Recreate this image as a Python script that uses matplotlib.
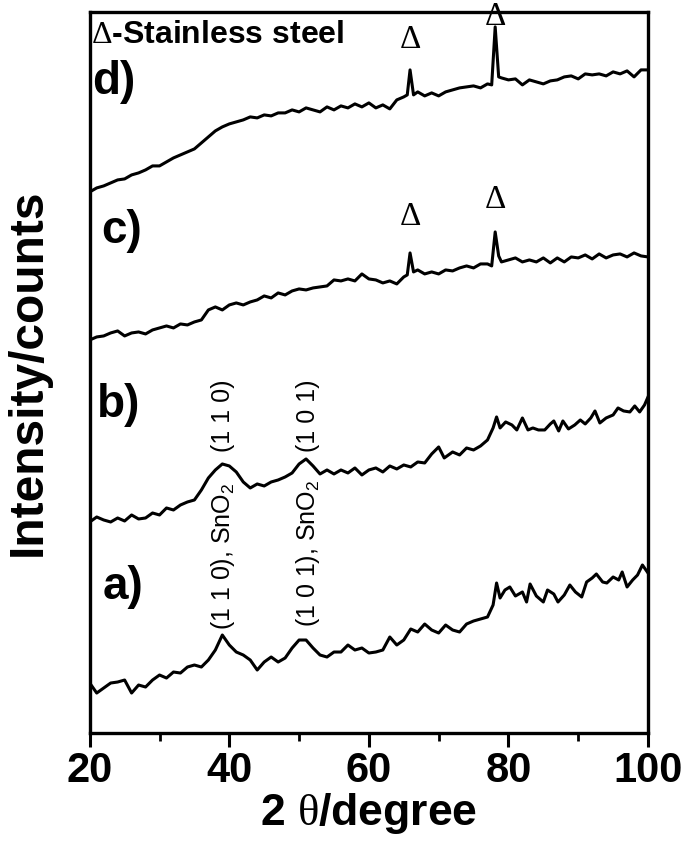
import matplotlib
matplotlib.use("Agg")
import matplotlib.pyplot as plt
from matplotlib.ticker import MultipleLocator

plt.rcParams["mathtext.fontset"] = "custom"
plt.rcParams["mathtext.rm"] = "Liberation Serif"
plt.rcParams["mathtext.sf"] = "Liberation Sans"

# XRD traces, intensity in arbitrary units (already offset)
x_a = [20, 21, 22, 23, 24, 25, 26, 27, 28, 29, 30, 31, 32, 33, 34, 35, 36, 37, 38, 39,
       40, 41, 42, 43, 44, 45, 46, 47, 48, 49, 50, 51, 52, 53, 54, 55, 56, 57, 58, 59,
       60, 61, 62, 63, 64, 65, 66, 67, 68, 69, 70, 71, 72, 73, 74, 75, 76, 77, 77.8, 78.3,
       78.8, 79.5, 80.2, 81, 82, 82.6, 83.1, 84, 85, 85.6, 86.5, 87.1, 88, 88.8, 89.6, 90.5,
       91.2, 92, 92.6, 93.5, 94.1, 95, 95.8, 96.3, 97, 97.8, 98.5, 99.2, 100]
y_a = [50, 40, 45, 50, 51, 53, 40, 48, 46, 53, 58, 55, 61, 60, 66, 68, 66, 73, 83, 98,
       88, 81, 78, 73, 63, 71, 76, 71, 75, 85, 93, 93, 85, 78, 76, 81, 81, 88, 83, 85,
       80, 81, 83, 96, 88, 93, 104, 101, 109, 103, 100, 108, 103, 101, 109, 112, 114, 116, 128, 150,
       135, 143, 146, 137, 141, 131, 149, 137, 131, 143, 139, 131, 138, 148, 141, 136,
       151, 155, 159, 151, 150, 156, 153, 161, 146, 153, 158, 168, 160]

x_b = [20, 21, 22, 23, 24, 25, 26, 27, 28, 29, 30, 31, 32, 33, 34, 35, 36, 37, 38, 39,
       40, 41, 42, 43, 44, 45, 46, 47, 48, 49, 50, 51, 52, 53, 54, 55, 56, 57, 58, 59,
       60, 61, 62, 63, 64, 65, 66, 67, 68, 69, 70, 70.8, 72, 73, 74, 75, 76, 77, 77.8, 78.3,
       78.8, 79.6, 80.5, 81.2, 82, 82.8, 83.5, 84.3, 85.2, 86, 86.5, 87.2, 87.8, 88.6, 89.5,
       90.3, 91, 91.8, 92.4, 93.1, 94, 95, 95.7, 96.5, 97.4, 98.1, 98.8, 99.5, 100]
y_b = [211, 216, 213, 211, 215, 212, 218, 214, 215, 220, 218, 225, 223, 228, 231, 233, 243, 255, 263, 269,
       267, 261, 251, 245, 249, 247, 251, 253, 256, 260, 269, 274, 267, 259, 263, 259, 263, 260, 265, 258,
       263, 265, 261, 267, 264, 268, 266, 271, 270, 279, 286, 275, 281, 278, 285, 283, 287, 293, 305, 316,
       305, 311, 308, 303, 315, 303, 305, 303, 303, 309, 312, 302, 312, 304, 308,
       313, 309, 315, 322, 310, 315, 318, 325, 322, 321, 327, 321, 328, 336]

x_c = [20, 21, 22, 23, 24, 25, 26, 27, 28, 29, 30, 31, 32, 33, 34, 35, 36, 37, 38, 39,
       40, 41, 42, 43, 44, 45, 46, 47, 48, 49, 50, 51, 52, 53, 54, 55, 56, 57, 58, 59,
       60, 61, 62, 63, 64, 65, 65.5, 65.9, 66.4, 67, 68, 69, 70, 71, 72, 73, 74, 75, 76, 77,
       77.6, 78.1, 78.6, 79, 80, 81, 82, 83, 84, 85, 86, 87, 88, 89, 90, 91, 92, 93, 94,
       95, 96, 97, 98, 99, 100]
y_c = [393, 396, 397, 400, 402, 397, 400, 401, 399, 403, 405, 407, 405, 409, 408, 411, 413, 423, 426, 423,
       428, 430, 428, 431, 433, 437, 435, 440, 438, 442, 444, 443, 445, 446, 447, 453, 452, 454, 452, 459,
       454, 453, 450, 452, 449, 456, 458, 480, 461, 463, 459, 461, 459, 463, 462, 465, 467, 465, 469, 469,
       467, 501, 477, 471, 473, 475, 471, 473, 471, 475, 470, 475, 471, 476, 475, 478, 474, 479, 475,
       478, 479, 476, 480, 477, 476]

x_d = [20, 21, 22, 23, 24, 25, 26, 27, 28, 29, 30, 31, 32, 33, 34, 35, 36, 37, 38, 39,
       40, 41, 42, 43, 44, 45, 46, 47, 48, 49, 50, 51, 52, 53, 54, 55, 56, 57, 58, 59,
       60, 61, 62, 63, 64, 65, 65.5, 65.9, 66.4, 67, 68, 69, 70, 71, 72, 73, 74, 75, 76, 77,
       77.6, 78.1, 78.6, 79, 80, 81, 82, 83, 84, 85, 86, 87, 88, 89, 90, 91, 92, 93, 94,
       95, 96, 97, 98, 99, 100]
y_d = [541, 545, 547, 550, 553, 554, 558, 560, 563, 567, 567, 571, 575, 578, 581, 584, 590, 596, 602, 606,
       609, 611, 613, 616, 615, 618, 617, 620, 620, 623, 621, 625, 623, 621, 626, 623, 627, 625, 629, 626,
       630, 625, 628, 624, 633, 636, 638, 663, 638, 641, 637, 640, 637, 641, 643, 645, 646, 647, 645, 649,
       648, 706, 656, 655, 653, 654, 648, 653, 651, 649, 652, 653, 656, 657, 654, 659, 658, 659, 657,
       661, 659, 662, 656, 663, 663]

# trace labels: text, x, y
trace_labels = [("a)", 21.9, 146), ("b)", 21.0, 328), ("c)", 21.7, 502), ("d)", 20.3, 651)]

# SnO2 reflections: text, x, y (bottom of rotated label)
peak_labels = [(r"(1 1 0), SnO$_\mathsf{2}$", 39.1, 103), (r"(1 0 1), SnO$_\mathsf{2}$", 51.3, 106),
               ("(1 1 0)", 39.1, 281), ("(1 0 1)", 51.3, 281)]

# stainless steel markers: x, y (bottom of marker)
steel_x = [66.0, 78.1, 65.9, 78.1]
steel_y = [678, 701, 501, 518]

fig = plt.figure(figsize=(6.85, 8.49), dpi=100)
ax = fig.add_axes([0.131, 0.1366, 0.815, 0.8494])

for xs, ys in [(x_a, y_a), (x_b, y_b), (x_c, y_c), (x_d, y_d)]:
    ax.plot(xs, ys, color="black", lw=2.2)

for txt, xx, yy in trace_labels:
    ax.text(xx, yy, txt, fontsize=33, fontweight="bold", family="Liberation Sans",
            ha="left", va="center")

for txt, xx, yy in peak_labels:
    ax.text(xx, yy, txt, fontsize=18, rotation=90, family="Liberation Sans",
            ha="center", va="bottom")

for xx, yy in zip(steel_x, steel_y):
    ax.text(xx, yy, "Δ", fontsize=24, family="Liberation Serif", ha="center", va="bottom")

ax.text(0.003, 0.968, r"$\Delta$-Stainless steel", transform=ax.transAxes, fontsize=23,
        fontweight="bold", family="Liberation Sans", ha="left", va="center")

ax.set_xlim(20, 100)
ax.set_ylim(0, 721)
ax.set_yticks([])
ax.xaxis.set_major_locator(MultipleLocator(20))
ax.xaxis.set_minor_locator(MultipleLocator(10))
ax.tick_params(axis="x", which="major", direction="out", length=10, width=2.2, pad=3)
ax.tick_params(axis="x", which="minor", direction="out", length=6, width=2.0)
for s in ax.spines.values():
    s.set_linewidth(2.4)

for lab in ax.get_xticklabels():
    lab.set_family("Liberation Sans")
    lab.set_fontweight("bold")
    lab.set_fontsize(30)

ax.set_xlabel(r"2 $\mathrm{\theta}$/degree", fontsize=32, fontweight="bold",
              family="Liberation Sans", labelpad=0)
ax.set_ylabel("Intensity/counts", fontsize=34.5, fontweight="bold",
              family="Liberation Sans", labelpad=28)

fig.savefig("out.png", dpi=100)
